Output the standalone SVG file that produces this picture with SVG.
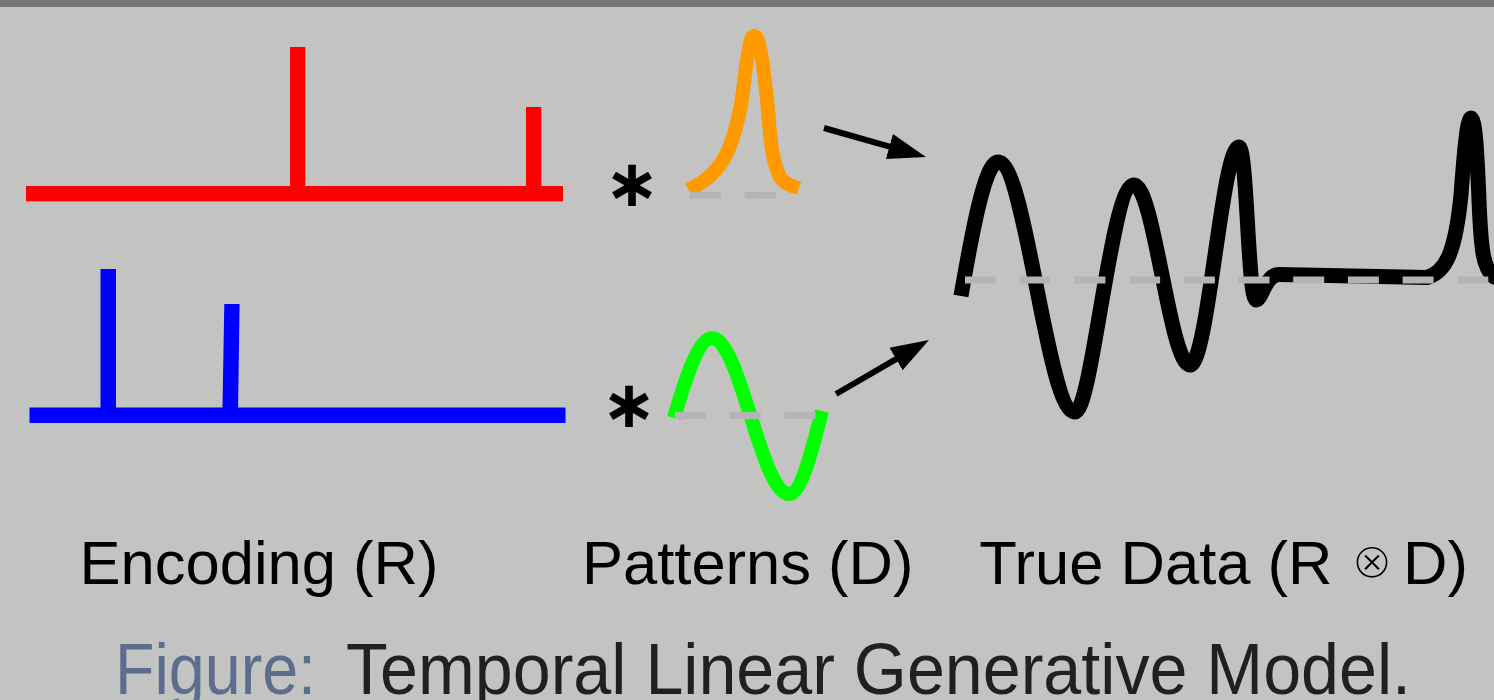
<svg xmlns="http://www.w3.org/2000/svg" width="1494" height="700" viewBox="0 0 1494 700">
  <style>
    .sig{fill:none;stroke-linecap:butt;stroke-linejoin:round}
    .base{fill:none;stroke:#b4b4b4;stroke-width:7;stroke-dasharray:31 23.7}
    .lbl{font-family:"Liberation Sans",Arial,sans-serif;font-size:61.5px;fill:#000}
    .star{font-family:"DejaVu Sans",sans-serif;font-weight:bold;font-size:66px;fill:#000;text-anchor:middle}
    .cap{font-family:"Liberation Sans",Arial,sans-serif;font-size:72.5px}
    .arrow{fill:none;stroke:#000;stroke-width:6}
  </style>
  <defs>
    <marker id="head" markerUnits="userSpaceOnUse" markerWidth="42" markerHeight="30" viewBox="0 -15 42 30" refX="2" refY="0" orient="auto">
      <path d="M0,-13 L38,0 L0,13 Z" fill="#000"/>
    </marker>
  </defs>
  <rect x="0" y="0" width="1494" height="700" fill="#c3c4c2"/>
  <rect x="0" y="0" width="1494" height="7" fill="#767778"/>

  <g id="encoding-red" fill="#ff0000">
    <rect x="26" y="186" width="537" height="15.3"/>
    <rect x="290" y="47" width="15.3" height="145"/>
    <rect x="526" y="107" width="15.3" height="85"/>
  </g>

  <g id="encoding-blue" fill="#0000ff">
    <rect x="29.5" y="407.5" width="536" height="15.5"/>
    <rect x="100.5" y="269" width="15.5" height="145"/>
    <polygon points="224.3,304 239.6,304 238,412 222.4,412"/>
  </g>

  <g id="star-top"><text class="star" x="632" y="206">∗</text></g>
  <g id="star-bottom"><text class="star" x="629" y="427">∗</text></g>

  <g id="pattern-orange">
    <path class="sig" stroke="#ff9900" stroke-width="14" d="M689,190 C692.5,187.7 703.7,182.2 710,176 C716.3,169.8 722,164 727,153 C732,142 736.7,126 740,110 C743.3,94 744.7,73 747,60 C749.3,47 750.5,36 754,36 C757.5,36 758.8,42 761,53 C763.2,64 765.2,83.3 767,100 C768.8,116.7 769.8,137.2 772,150 C774.2,162.8 777,171.2 780,177 C783,182.8 786.8,183.2 790,185 C793.2,186.8 797.5,187.5 799,188"/>
    <line class="base" x1="690" y1="195.3" x2="777" y2="195.3"/>
  </g>

  <g id="pattern-green">
    <path class="sig" stroke="#00ff00" stroke-width="14" d="M674,418 C686.4,375.5 699,338 712,338 C740,338 761,494 789,494 C800.6,494 811,455 822,411"/>
    <line class="base" x1="675" y1="415.5" x2="816" y2="415.5"/>
  </g>

  <g id="true-data">
    <path class="sig" stroke="#000" stroke-width="15" d="M961,296 C973,227 985.3,162 998,162 C1026,162 1047,412 1075,412 C1092,412 1111,185 1134,185 C1154,185 1170,365 1190,365 C1208,365 1222,147 1239,147 C1247,147 1248,300 1256,300 C1262,300 1265,274.5 1279,274.5 L1427,277.5 C1445,272 1455,255 1461,195 C1464,155 1467,118 1471,118 C1475,118 1477,150 1479,200 C1481,250 1483,268 1494,277 L1520,281"/>
    <line class="base" x1="965" y1="280" x2="1494" y2="280"/>
  </g>

  <g id="connectors">
    <path class="arrow" d="M824,128 L891.3,147.1" marker-end="url(#head)"/>
    <path class="arrow" d="M836,394 L897.8,358.1" marker-end="url(#head)"/>
  </g>

  <g id="labels">
    <text class="lbl" x="79.5" y="584">Encoding (R)</text>
    <text class="lbl" x="582" y="584">Patterns (D)</text>
    <text class="lbl" x="979.3" y="584">True Data (R</text>
    <text x="1372" y="578" font-family="DejaVu Sans, sans-serif" font-size="50" text-anchor="middle" fill="#000" stroke="#c3c4c2" stroke-width="2">⊗</text>
    <text class="lbl" x="1403" y="584">D)</text>
  </g>

  <g id="caption">
    <text class="cap" x="115" y="694" fill="#5c6d8d" textLength="201" lengthAdjust="spacingAndGlyphs">Figure:</text>
    <text class="cap" x="346" y="694" fill="#231f20" textLength="1065" lengthAdjust="spacingAndGlyphs">Temporal Linear Generative Model.</text>
  </g>
</svg>
